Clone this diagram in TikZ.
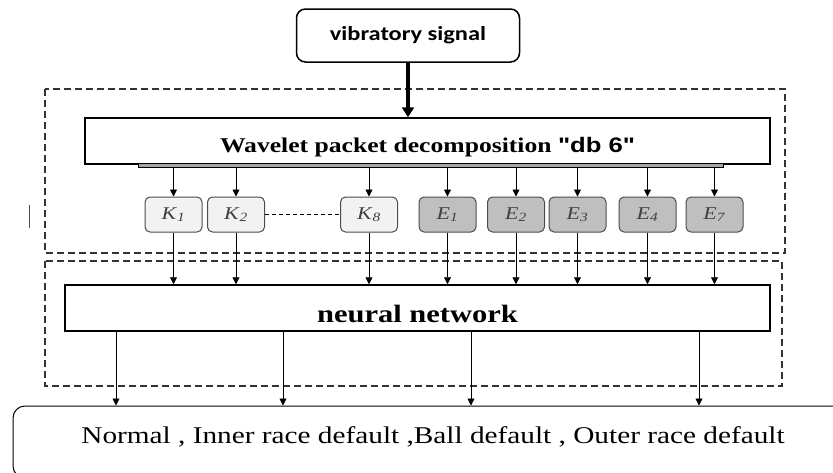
\documentclass[tikz,border=0pt]{standalone}
\usepackage{fontspec}
\usepackage{graphicx}
\usetikzlibrary{arrows.meta}
\setmainfont{Liberation Serif}
\newfontfamily\calibrifont{Carlito}
\newfontfamily\arialfont{Liberation Sans}
\newcommand{\wider}[1]{\scalebox{1.22}[1]{#1}}
\newcommand{\feat}[2]{\wider{\textit{#1}\textsubscript{\textit{#2}}}}

\tikzset{
  flow/.style={-{Triangle[length=7pt,width=7pt]}, line width=0.8pt},
  fbox/.style={draw=black!70, line width=1pt, rounded corners=5pt, minimum width=57pt,
    minimum height=35pt, text=black!75, font=\fontsize{18}{21}\selectfont},
  kbox/.style={fbox, fill=black!5},
  ebox/.style={fbox, fill=black!25},
  stage/.style={draw, line width=1.5pt, inner sep=0pt},
  frame/.style={draw=black!80, line width=1.2pt, dash pattern=on 7pt off 4pt},
}

\begin{document}
\begin{tikzpicture}[x=1pt, y=-1pt]
    \useasboundingbox (0,0) rectangle (833,472);
    % input signal
    \node[draw, line width=1.5pt, rounded corners=9pt, minimum width=223pt, minimum height=53pt,
      font=\calibrifont\bfseries\fontsize{20}{24}\selectfont] (sig) at (408,35.5) {\wider{vibratory signal}};
    % dashed frames
    \draw[frame] (45,89) rectangle (785,253);
    \draw[frame] (45,261) rectangle (782,386);
    % decomposition
    \node[stage, minimum width=685pt, text height=34pt, text depth=12pt,
      font=\bfseries\fontsize{21}{25}\selectfont] (wpd) at (427.5,141)
      {\wider{Wavelet packet decomposition {\arialfont"db 6"}}};
    \node[draw, fill=black!35, line width=0.6pt, minimum width=585pt, minimum height=4.5pt,
      inner sep=0pt] (bar) at (430.5,165.5) {};
    \draw[-{Triangle[length=10pt,width=12pt]}, line width=4.5pt] (sig.south) -- (sig.south |- wpd.north);
    % features
    \node[kbox] (k1) at (173.5,214.5) {\feat{K}{1}};
    \node[kbox] (k2) at (236,214.5) {\feat{K}{2}};
    \node[kbox] (k8) at (369,214.5) {\feat{K}{8}};
    \node[ebox] (e1) at (447.5,214.5) {\feat{E}{1}};
    \node[ebox] (e2) at (516,214.5) {\feat{E}{2}};
    \node[ebox] (e3) at (577.5,214.5) {\feat{E}{3}};
    \node[ebox] (e4) at (647.5,214.5) {\feat{E}{4}};
    \node[ebox] (e7) at (714.5,214.5) {\feat{E}{7}};
    \draw[line width=0.8pt, dash pattern=on 4pt off 3pt] (k2) -- (k8);
    \draw[line width=0.8pt, black!70] (29,205) -- (29,228);
    % classifier
    \node[stage, minimum width=705pt, text height=37pt, text depth=9pt,
      font=\bfseries\fontsize{25}{30}\selectfont] (nn) at (417.5,308) {\wider{neural network}};
    \foreach \n in {k1,k2,k8,e1,e2,e3,e4,e7}{
      \draw[flow] (\n |- bar.south) -- (\n.north);
      \draw[flow] (\n.south) -- (\n |- nn.north);
    }
    % classes
    \node[draw, line width=1pt, rounded corners=12pt, minimum width=840pt, text height=37pt,
      text depth=35pt, inner sep=0pt, font=\fontsize{24}{28}\selectfont] (out) at (433,442)
      {\wider{Normal , Inner race default ,Ball default , Outer race default}};
    \foreach \x [count=\i] in {116,283,471,699}{
      \coordinate (c\i) at (\x,0);
      \draw[flow] (c\i |- nn.south) -- (c\i |- out.north);
    }
\end{tikzpicture}
\end{document}
